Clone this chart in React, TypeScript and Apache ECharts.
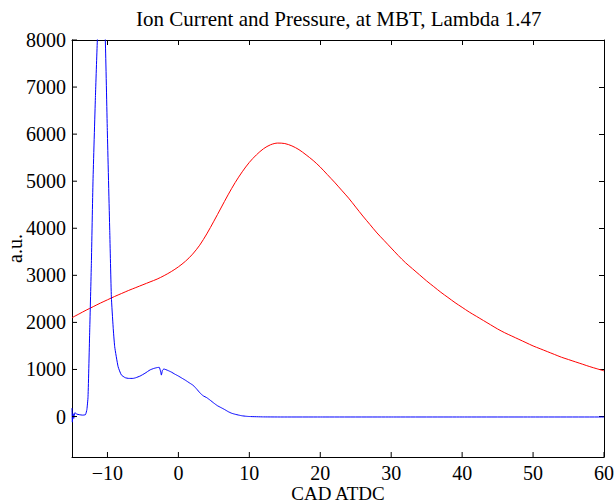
import React, { useEffect, useRef } from "react";
import * as echarts from "echarts";

const titleText = "Ion Current and Pressure, at MBT, Lambda 1.47";
const xTicks = [-10, 0, 10, 20, 30, 40, 50, 60];
const yTicks = [0, 1000, 2000, 3000, 4000, 5000, 6000, 7000, 8000];

const pressureX = [-15, -14, -13, -12, -11, -10, -9, -8, -7, -6, -5, -4, -3, -2, -1, 0, 1, 2, 3, 4, 5, 6, 7, 8, 9, 10, 11, 12, 13, 14, 15, 16, 17, 18, 19, 20, 21, 22, 23, 24, 25, 26, 27, 28, 29, 30, 31, 32, 33, 34, 35, 36, 37, 38, 39, 40, 41, 42, 43, 44, 45, 46, 47, 48, 49, 50, 51, 52, 53, 54, 55, 56, 57, 58, 59, 60];
const pressureY = [2100, 2180, 2260, 2335, 2410, 2480, 2550, 2615, 2680, 2740, 2800, 2860, 2920, 2995, 3080, 3180, 3300, 3450, 3640, 3880, 4150, 4430, 4710, 4970, 5200, 5400, 5560, 5690, 5775, 5810, 5800, 5750, 5670, 5560, 5440, 5300, 5140, 4980, 4810, 4640, 4450, 4260, 4080, 3900, 3740, 3580, 3420, 3270, 3140, 3010, 2880, 2760, 2640, 2530, 2420, 2320, 2220, 2130, 2040, 1950, 1860, 1780, 1710, 1640, 1570, 1500, 1440, 1380, 1320, 1260, 1210, 1160, 1110, 1060, 1015, 970];

const ionX = [-15, -14.95, -14.85, -14.75, -14.6, -14.3, -14, -13.5, -13.1, -12.9, -12.74, -12.5, -12.27, -12.04, -11.7, -11.43, -11.1, -10.85, -10.6, -10.3, -10.02, -9.68, -9.45, -9.2, -8.98, -8.5, -8.05, -7.5, -7, -6.4, -6, -5.4, -4.7, -4, -3.5, -3, -2.7, -2.5, -2.4, -2.25, -2.05, -1.5, -1, -0.5, 0, 0.5, 1, 1.6, 2.1, 2.6, 3.05, 3.5, 4, 4.5, 5, 5.5, 6, 6.5, 7, 7.5, 8, 8.5, 9, 9.5, 10, 12, 15, 20, 30, 40, 50, 60];
const ionY = [180, -120, 60, -40, 80, 50, 40, 30, 40, 150, 420, 1840, 3250, 5000, 6780, 7980, 8900, 9200, 8900, 7980, 6075, 3955, 2542, 1900, 1483, 1059, 885, 825, 810, 810, 825, 860, 920, 990, 1020, 1040, 1045, 950, 880, 980, 1010, 980, 945, 900, 860, 815, 770, 710, 660, 580, 500, 440, 400, 345, 285, 230, 190, 150, 105, 70, 48, 30, 15, 6, 0, -8, -10, -10, -10, -10, -10, -10];

const FONT = "Liberation Serif";
const X_MIN = -15;
const X_MAX = 60;
const Y_MIN = -860;
const Y_MAX = 8000;
const TICK_LEN = 5;

export default function App() {
  const ref = useRef<HTMLDivElement>(null);
  useEffect(() => {
    if (!ref.current) return;
    const chart = echarts.init(ref.current, undefined, { renderer: "svg" });
    const lineCommon = { show: true, onZero: false, lineStyle: { color: "#000", width: 1 } };
    const tickStyle = { show: true, inside: true, length: TICK_LEN, lineStyle: { color: "#000", width: 1 } };
    chart.setOption({
      animation: false,
      backgroundColor: "#fff",
      title: {
        text: titleText,
        left: 131,
        top: 3,
        textStyle: { fontFamily: FONT, fontSize: 21, fontWeight: "normal", color: "#000" },
      },
      grid: { left: 72, right: 10, top: 40, bottom: 47, containLabel: false, outerBoundsMode: "none" },
      xAxis: [
        {
          type: "value",
          min: X_MIN,
          max: X_MAX,
          position: "bottom",
          axisLine: lineCommon,
          axisTick: { show: false },
          axisLabel: {
            customValues: xTicks,
            fontFamily: FONT,
            fontSize: 20,
            color: "#000",
            margin: 6,
            hideOverlap: false,
            formatter: (v: number) => (v < 0 ? "\u2212" + Math.abs(v) : String(v)),
          },
          splitLine: { show: false },
          name: "CAD ATDC",
          nameLocation: "middle",
          nameGap: 27,
          nameMoveOverlap: false,
          nameTextStyle: { fontFamily: FONT, fontSize: 19, color: "#000" },
        },
        {
          type: "value",
          min: X_MIN,
          max: X_MAX,
          position: "top",
          axisLine: lineCommon,
          axisTick: { ...tickStyle, customValues: xTicks },
          axisLabel: { show: false },
          splitLine: { show: false },
        },
      ],
      yAxis: [
        {
          type: "value",
          min: Y_MIN,
          max: Y_MAX,
          position: "left",
          axisLine: lineCommon,
          axisTick: { show: false },
          axisLabel: {
            customValues: yTicks,
            fontFamily: FONT,
            fontSize: 20,
            color: "#000",
            margin: 6,
            hideOverlap: false,
            formatter: (v: number) => String(v),
          },
          splitLine: { show: false },
          name: "a.u.",
          nameLocation: "middle",
          nameGap: 47,
          nameMoveOverlap: false,
          nameRotate: 90,
          nameTextStyle: { fontFamily: FONT, fontSize: 20, color: "#000" },
        },
        {
          type: "value",
          min: Y_MIN,
          max: Y_MAX,
          position: "right",
          axisLine: lineCommon,
          axisTick: { ...tickStyle, customValues: yTicks },
          axisLabel: { show: false },
          splitLine: { show: false },
        },
      ],
      series: [
        {
          type: "line",
          data: pressureX.map((x, i) => [x, pressureY[i]]),
          smooth: 0.3,
          showSymbol: false,
          lineStyle: { color: "#ff0000", width: 1 },
          clip: true,
        },
        {
          type: "line",
          data: ionX.map((x, i) => [x, ionY[i]]),
          smooth: 0.15,
          showSymbol: false,
          lineStyle: { color: "#0000ff", width: 1 },
          clip: true,
        },
        {
          type: "custom",
          silent: true,
          clip: false,
          z: 5,
          data: xTicks.map((v) => [v, Y_MIN]),
          renderItem: (_params: any, api: any) => {
            const p = api.coord([api.value(0), Y_MIN]);
            return {
              type: "line",
              shape: { x1: p[0], y1: p[1], x2: p[0], y2: p[1] - TICK_LEN },
              style: { stroke: "#000", lineWidth: 1 },
            };
          },
        },
        {
          type: "custom",
          silent: true,
          clip: false,
          z: 5,
          data: yTicks.map((v) => [X_MIN, v]),
          renderItem: (_params: any, api: any) => {
            const p = api.coord([X_MIN, api.value(1)]);
            return {
              type: "line",
              shape: { x1: p[0], y1: p[1], x2: p[0] + TICK_LEN, y2: p[1] },
              style: { stroke: "#000", lineWidth: 1 },
            };
          },
        },
      ],
    });
    return () => chart.dispose();
  }, []);
  return <div ref={ref} style={{ width: 614, height: 504, position: "absolute", left: 0, top: 0 }} />;
}
